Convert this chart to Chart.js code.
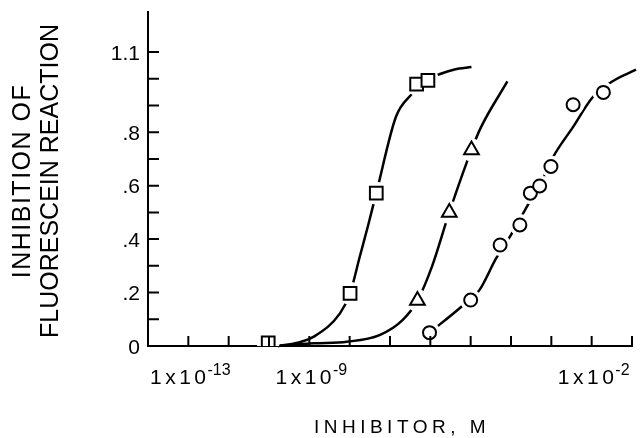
<!DOCTYPE html>
<html>
<head>
<meta charset="utf-8">
<script src="https://cdn.jsdelivr.net/npm/chart.js@4.4.1/dist/chart.umd.min.js"></script>
<style>
  html, body { margin: 0; padding: 0; background: #fff; }
</style>
</head>
<body>
<canvas id="chart" width="644" height="438"></canvas>
<script>
// x values are log10 of the inhibitor concentration (M)
var squareX = [-10.02, -7.99, -7.34, -6.34, -6.06];
var squareY = [0.012, 0.197, 0.572, 0.98, 0.994];
var triangleX = [-6.32, -5.53, -4.98];
var triangleY = [0.17, 0.50, 0.734];
var circleX = [-6.02, -5.0, -4.27, -3.78, -3.52, -3.29, -3.01, -2.46, -1.71];
var circleY = [0.05, 0.172, 0.378, 0.453, 0.572, 0.599, 0.672, 0.903, 0.949];

// the hand drawn curves
var squareCurveX = [-9.78, -9.29, -8.89, -8.24, -7.99, -7.75, -7.54, -7.34, -6.85, -6.45, -6.2, -5.76, -5.4, -4.98];
var squareCurveY = [0, 0.012, 0.035, 0.122, 0.197, 0.334, 0.453, 0.572, 0.859, 0.945, 0.987, 1.018, 1.035, 1.044];
var triangleCurveX = [-9.78, -8.89, -8.07, -7.26, -6.69, -6.32, -5.96, -5.53, -4.98, -4.74, -4.09];
var triangleCurveY = [0, 0.01, 0.016, 0.041, 0.097, 0.17, 0.297, 0.5, 0.734, 0.82, 0.99];
var circleCurveX = [-6.02, -5.23, -4.78, -4.37, -4.0, -3.64, -3.2, -2.95, -2.46, -1.98, -1.49, -0.9];
var circleCurveY = [0.05, 0.147, 0.21, 0.328, 0.416, 0.512, 0.63, 0.709, 0.82, 0.93, 0.99, 1.034];

// axes
var yTickValues = [0, 0.1, 0.2, 0.3, 0.4, 0.5, 0.6, 0.7, 0.8, 0.9, 1.0, 1.1];
var yLabelValues = [0, 0.2, 0.4, 0.6, 0.8, 1.1];
var yLabels = ['0', '.2', '.4', '.6', '.8', '1.1'];
var xTickValues = [-12, -11, -10, -9, -8, -7, -6, -5, -4, -3, -2, -1];
var xLabelValues = [-12, -9, -2];
var xLabelExp = ['-13', '-9', '-2'];

function pts(xs, ys) {
  return xs.map(function (x, i) { return { x: x, y: ys[i] }; });
}

function curve(xs, ys) {
  return {
    data: pts(xs, ys),
    showLine: true,
    borderColor: '#000',
    borderWidth: 2.5,
    pointRadius: 0,
    cubicInterpolationMode: 'monotone',
    clip: false
  };
}

// white patch under each marker so the line stops short of it
function halo(xs, ys, r) {
  return {
    data: pts(xs, ys),
    pointStyle: 'circle',
    pointRadius: r,
    pointBackgroundColor: '#fff',
    pointBorderColor: '#fff',
    pointBorderWidth: 1
  };
}

function markers(xs, ys, style, r) {
  return {
    data: pts(xs, ys),
    pointStyle: style,
    pointRadius: r,
    pointBackgroundColor: '#fff',
    pointBorderColor: '#000',
    pointBorderWidth: 2
  };
}

var FONT = '"Liberation Sans", Arial, sans-serif';

var axisDecor = {
  id: 'axisDecor',
  afterDraw: function (chart) {
    var ctx = chart.ctx;
    var xs = chart.scales.x, ys = chart.scales.y;
    var x0 = xs.left, y0 = ys.bottom;
    ctx.save();
    ctx.strokeStyle = '#000';
    ctx.fillStyle = '#000';
    ctx.lineWidth = 2;

    // inward tick marks
    ctx.beginPath();
    yTickValues.forEach(function (v) {
      var py = ys.getPixelForValue(v);
      ctx.moveTo(x0, py);
      ctx.lineTo(x0 + 11, py);
    });
    xTickValues.forEach(function (v) {
      var px = xs.getPixelForValue(v);
      ctx.moveTo(px, y0);
      ctx.lineTo(px, y0 - 10);
    });
    ctx.stroke();

    // y labels
    ctx.font = '21px ' + FONT;
    ctx.textAlign = 'right';
    ctx.textBaseline = 'middle';
    yLabelValues.forEach(function (v, i) {
      ctx.fillText(yLabels[i], x0 - 8, ys.getPixelForValue(v) + 2);
    });

    // x labels with superscript exponent
    ctx.textAlign = 'left';
    ctx.textBaseline = 'alphabetic';
    xLabelValues.forEach(function (v, i) {
      var px = xs.getPixelForValue(v);
      ctx.font = '21px ' + FONT;
      ctx.letterSpacing = '3.5px';
      var w1 = ctx.measureText('1x10').width;
      ctx.font = '16px ' + FONT;
      ctx.letterSpacing = '0px';
      var w2 = ctx.measureText(xLabelExp[i]).width;
      var left = px - (w1 + w2) / 2 + 3;
      ctx.font = '21px ' + FONT;
      ctx.letterSpacing = '3.5px';
      ctx.fillText('1x10', left, y0 + 38);
      ctx.font = '16px ' + FONT;
      ctx.letterSpacing = '0px';
      ctx.fillText(xLabelExp[i], left + w1 - 2, y0 + 29);
    });

    // x title
    ctx.font = '19px ' + FONT;
    ctx.letterSpacing = '4.5px';
    ctx.textAlign = 'center';
    ctx.fillText('INHIBITOR, M', (xs.left + xs.right) / 2 + 12, y0 + 87);

    // y title, two lines
    var cy = (ys.top + ys.bottom) / 2 + 2;
    ctx.font = '25px ' + FONT;
    ctx.textBaseline = 'middle';
    ctx.save();
    ctx.translate(23, cy);
    ctx.rotate(-Math.PI / 2);
    ctx.letterSpacing = '1.5px';
    ctx.fillText('INHIBITION OF', 0, 0);
    ctx.restore();
    ctx.save();
    ctx.translate(51, cy);
    ctx.rotate(-Math.PI / 2);
    ctx.letterSpacing = '0px';
    ctx.fillText('FLUORESCEIN REACTION', 0, 0);
    ctx.restore();

    ctx.restore();
  }
};

// first dataset is drawn on top
new Chart(document.getElementById('chart'), {
  type: 'scatter',
  data: {
    datasets: [
      markers(squareX, squareY, 'rect', 9),
      markers(triangleX, triangleY, 'triangle', 8.5),
      markers(circleX, circleY, 'circle', 6.5),
      halo(squareX, squareY, 11),
      halo(triangleX, triangleY, 11),
      halo(circleX, circleY, 10.5),
      curve(squareCurveX, squareCurveY),
      curve(triangleCurveX, triangleCurveY),
      curve(circleCurveX, circleCurveY)
    ]
  },
  options: {
    responsive: false,
    animation: false,
    layout: { padding: { left: 148, right: 4, top: 12, bottom: 92 } },
    plugins: { legend: { display: false }, tooltip: { enabled: false } },
    scales: {
      x: {
        type: 'linear',
        min: -13,
        max: -1,
        ticks: { display: false },
        grid: { display: false, drawTicks: false },
        border: { display: true, color: '#000', width: 2 }
      },
      y: {
        min: 0,
        max: 1.25,
        ticks: { display: false },
        grid: { display: false, drawTicks: false },
        border: { display: true, color: '#000', width: 2 }
      }
    }
  },
  plugins: [axisDecor]
});
</script>
</body>
</html>
